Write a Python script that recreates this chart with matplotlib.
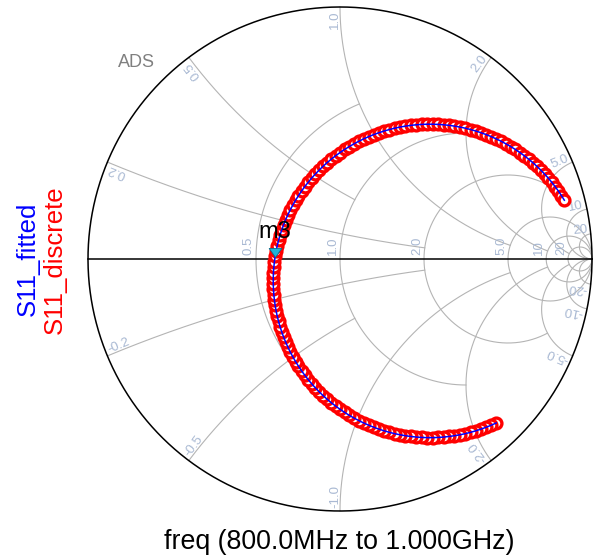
import numpy as np
import matplotlib
matplotlib.use("Agg")
import matplotlib.pyplot as plt
from matplotlib.path import Path
from matplotlib.markers import MarkerStyle

# S11, 800 MHz -> 1.000 GHz (reflection coefficient re / im)
s11_re = [0.6199, 0.6000, 0.5799, 0.5595, 0.5389, 0.5180, 0.4970, 0.4757, 0.4543, 0.4328,
          0.4112, 0.3895, 0.3679,
          0.3461, 0.3245, 0.3028, 0.2812, 0.2597, 0.2383, 0.2170, 0.1960, 0.1751, 0.1545,
          0.1341, 0.1140, 0.0941, 0.0746, 0.0555, 0.0367, 0.0183, 0.0002, -0.0173, -0.0344,
          -0.0511, -0.0672, -0.0828, -0.0979, -0.1124, -0.1264, -0.1397, -0.1525, -0.1647, -0.1762,
          -0.1870, -0.1972, -0.2067, -0.2156, -0.2237, -0.2311, -0.2378, -0.2438, -0.2491, -0.2536,
          -0.2573, -0.2603, -0.2626, -0.2641, -0.2649,
          -0.2649, -0.2641, -0.2626, -0.2603, -0.2573, -0.2536, -0.2491, -0.2438, -0.2378, -0.2311,
          -0.2237, -0.2156, -0.2067, -0.1972, -0.1870, -0.1762, -0.1647, -0.1525, -0.1397, -0.1264,
          -0.1124, -0.0979, -0.0828, -0.0672, -0.0511, -0.0344, -0.0173, 0.0002, 0.0183, 0.0367,
          0.0555, 0.0746, 0.0941, 0.1140, 0.1341, 0.1545, 0.1751, 0.1960, 0.2170, 0.2383,
          0.2597, 0.2812, 0.3028, 0.3245, 0.3461,
          0.3679, 0.3895, 0.4112, 0.4328, 0.4543, 0.4757, 0.4970, 0.5180, 0.5389, 0.5595,
          0.5799, 0.6000, 0.6199, 0.6394, 0.6585, 0.6773, 0.6957, 0.7138, 0.7313, 0.7484,
          0.7651, 0.7812, 0.7968, 0.8119, 0.8264, 0.8404, 0.8537, 0.8665, 0.8787, 0.8902]
s11_im = [-0.6507, -0.6596, -0.6677, -0.6751, -0.6818, -0.6878, -0.6931, -0.6976, -0.7013, -0.7043,
          -0.7066, -0.7081, -0.7089,
          -0.7089, -0.7081, -0.7066, -0.7043, -0.7013, -0.6976, -0.6931, -0.6878, -0.6818, -0.6751,
          -0.6677, -0.6596, -0.6507, -0.6412, -0.6310, -0.6202, -0.6087, -0.5965, -0.5837, -0.5704,
          -0.5564, -0.5419, -0.5268, -0.5112, -0.4951, -0.4784, -0.4613, -0.4438, -0.4257, -0.4073,
          -0.3885, -0.3694, -0.3499, -0.3300, -0.3099, -0.2895, -0.2689, -0.2480, -0.2270, -0.2057,
          -0.1843, -0.1628, -0.1412, -0.1195, -0.0979,
          -0.0761, -0.0545, -0.0328, -0.0112, 0.0103, 0.0317, 0.0530, 0.0740, 0.0949, 0.1155,
          0.1359, 0.1560, 0.1759, 0.1954, 0.2145, 0.2333, 0.2517, 0.2698, 0.2873, 0.3044,
          0.3211, 0.3372, 0.3528, 0.3679, 0.3824, 0.3964, 0.4097, 0.4225, 0.4347, 0.4462,
          0.4570, 0.4672, 0.4767, 0.4856, 0.4937, 0.5011, 0.5078, 0.5138, 0.5191, 0.5236,
          0.5273, 0.5303, 0.5326, 0.5341, 0.5349,
          0.5349, 0.5341, 0.5326, 0.5303, 0.5273, 0.5236, 0.5191, 0.5138, 0.5078, 0.5011,
          0.4937, 0.4856, 0.4767, 0.4672, 0.4570, 0.4462, 0.4347, 0.4225, 0.4097, 0.3964,
          0.3824, 0.3679, 0.3528, 0.3372, 0.3211, 0.3044, 0.2873, 0.2698, 0.2517, 0.2333]

marker_name = "m3"
marker_re = -0.256
marker_im = 0.008

# smith grid: resistance circles and reactance arcs, with where each one stops
r_values = [0.5, 1.0, 2.0, 5.0, 10.0, 20.0]
r_labels = ["0.5", "1.0", "2.0", "5.0", "10", "20"]
r_stop_x = [1.0, 2.0, 5.0, None, None, None]
x_values = [0.2, 0.5, 1.0, 2.0, 5.0, 10.0, 20.0]
x_labels = ["0.2", "0.5", "1.0", "2.0", "5.0", "10", "20"]
x_stop_r = [2.0, 1.0, 5.0, 10.0, 20.0, None, None]

GRID = "#b4b4b4"
LBL = "#a9b9d3"
PX = 72.0 / 100  # points per pixel


def gamma(z):
    return (z - 1) / (z + 1)


def r_circle(r, xmax, n=400):
    c = r / (r + 1)
    rad = 1 / (r + 1)
    a0 = 0.0
    if xmax is not None:
        g = gamma(complex(r, xmax))
        a0 = np.arctan2(g.imag, g.real - c)
    t = np.linspace(a0, 2 * np.pi - a0, n)
    return c + rad * np.cos(t), rad * np.sin(t)


def x_arc(x, rmax, n=300):
    cy = 1 / x
    g0 = gamma(complex(0, x))
    a0 = np.mod(np.arctan2(g0.imag - cy, g0.real - 1), 2 * np.pi)
    a1 = 1.5 * np.pi
    if rmax is not None:
        g1 = gamma(complex(rmax, x))
        a1 = np.mod(np.arctan2(g1.imag - cy, g1.real - 1), 2 * np.pi)
    t = np.linspace(a0, a1, n)
    return 1 + cy * np.cos(t), cy + cy * np.sin(t)


plt.rcParams['font.family'] = ['Liberation Sans', 'DejaVu Sans']
fig = plt.figure(figsize=(5.94, 5.60), dpi=100)
lim = 1.02
ax = fig.add_axes([(340 - 252 * lim) / 594, (560 - 259 - 252 * lim) / 560,
                   2 * 252 * lim / 594, 2 * 252 * lim / 560])
ax.set_xlim(-lim, lim)
ax.set_ylim(-lim, lim)
ax.axis("off")

# grid
for r, xs in zip(r_values, r_stop_x):
    cx, cy = r_circle(r, xs)
    ax.plot(cx, cy, color=GRID, lw=0.8, zorder=1)
for x, rs in zip(x_values, x_stop_r):
    ax_, ay_ = x_arc(x, rs)
    ax.plot(ax_, ay_, color=GRID, lw=0.8, zorder=1)
    ax.plot(ax_, -ay_, color=GRID, lw=0.8, zorder=1)

t = np.linspace(0, 2 * np.pi, 600)
ax.plot(np.cos(t), np.sin(t), color="black", lw=1.1, zorder=2)
ax.plot([-1, 1], [0, 0], color="black", lw=1.1, zorder=2)

# resistance labels along the real axis
for r, lbl in zip(r_values, r_labels):
    ax.annotate(lbl, xy=((r - 1) / (r + 1), 0), xytext=(-4 * PX, 4 * PX),
                textcoords="offset points", rotation=90, rotation_mode="anchor",
                ha="left", va="baseline", color=LBL, fontsize=9.5, zorder=2)

# reactance labels at the rim
for x, lbl in zip(x_values, x_labels):
    for sign in (1, -1):
        g = gamma(complex(0, sign * x))
        phi = np.degrees(np.arctan2(g.imag, g.real)) % 360
        inward = np.array([-np.cos(np.radians(phi)), -np.sin(np.radians(phi))])
        if sign > 0:
            rot, ha, side = phi, "right", phi + 90
            text = lbl
        else:
            rot, ha, side = phi - 180, "left", phi - 90
            text = "-" + lbl
        sdir = np.array([np.cos(np.radians(side)), np.sin(np.radians(side))])
        off = (3 * inward + 2 * sdir) * PX
        ax.annotate(text, xy=(g.real, g.imag), xytext=(off[0], off[1]),
                    textcoords="offset points", rotation=rot, rotation_mode="anchor",
                    ha=ha, va="baseline", color=LBL, fontsize=9.5, zorder=2)

# traces
ax.plot(s11_re, s11_im, linestyle="none", marker="o", markersize=7.8,
        markerfacecolor="white", markeredgecolor="#ff0000", markeredgewidth=2.4, zorder=3)
ax.plot(s11_re, s11_im, color="#0000ff", lw=1.1, zorder=4)

# marker m3
tri = Path([(-0.7, 1.0), (0.7, 1.0), (0.0, 0.0), (-0.7, 1.0)],
           [Path.MOVETO, Path.LINETO, Path.LINETO, Path.CLOSEPOLY])
ax.plot([marker_re], [marker_im], linestyle="none", marker=MarkerStyle(tri),
        markersize=13, markerfacecolor="#1eb4d8", markeredgecolor="#0a6e8c",
        markeredgewidth=0.6, zorder=5)
ax.annotate(marker_name, xy=(marker_re, marker_im), xytext=(-1 * PX, 19 * PX),
            textcoords="offset points", ha="center", va="baseline",
            fontsize=17, color="black", zorder=6)

# chart captions
fig.text(118 / 594, 1 - 67 / 560, "ADS", color="#808080", fontsize=13,
         family=["Liberation Sans Narrow", "Liberation Sans"], ha="left", va="baseline")
fig.text(35 / 594, 1 - 259 / 560, "S11_fitted", color="#0000ff", fontsize=18.5,
         rotation=90, rotation_mode="anchor", ha="center", va="baseline")
fig.text(62 / 594, 1 - 260 / 560, "S11_discrete", color="#ff0000", fontsize=18.5,
         rotation=90, rotation_mode="anchor", ha="center", va="baseline")
fig.text(339 / 594, 1 - 549 / 560, "freq (800.0MHz to 1.000GHz)", color="black",
         fontsize=19.3, ha="center", va="baseline")

fig.savefig("out.png", dpi=100)
